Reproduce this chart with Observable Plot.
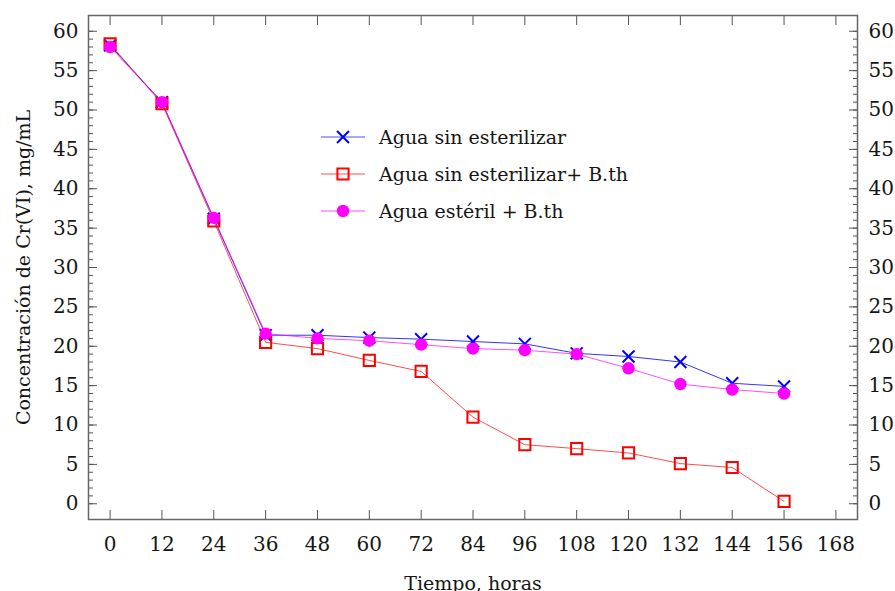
<!DOCTYPE html>
<html><head><meta charset="utf-8">
<script src="https://cdn.jsdelivr.net/npm/d3@7"></script>
<script src="https://cdn.jsdelivr.net/npm/@observablehq/plot@0.6"></script>
<style>
body{margin:0;background:#fff}
#chart{position:relative;width:895px;height:591px;overflow:hidden}
#legend{position:absolute;left:0;top:0}
</style>
</head><body><div id="chart"></div>
<script>
const hours = [0, 12, 24, 36, 48, 60, 72, 84, 96, 108, 120, 132, 144, 156];
const aguaSinEsterilizar = [58.2, 51.0, 36.2, 21.4, 21.4, 21.1, 20.9, 20.6, 20.3, 19.1, 18.7, 18.0, 15.3, 14.9];
const aguaSinEsterilizarBth = [58.4, 50.8, 35.9, 20.5, 19.7, 18.2, 16.8, 11.0, 7.5, 7.0, 6.45, 5.1, 4.6, 0.3];
const aguaEsterilBth = [58.0, 51.0, 36.3, 21.6, 21.0, 20.7, 20.2, 19.7, 19.5, 19.0, 17.2, 15.2, 14.5, 14.0];
const seriesNames = ["Agua sin esterilizar", "Agua sin esterilizar+ B.th", "Agua estéril + B.th"];
const seriesColors = ["#0000ff", "#ff0000", "#ff00ff"];
const xTicks = [0, 12, 24, 36, 48, 60, 72, 84, 96, 108, 120, 132, 144, 156, 168];
const yTicks = [0, 5, 10, 15, 20, 25, 30, 35, 40, 45, 50, 55, 60];
const yMinorTicks = d3.range(0, 61, 1);
const xLabel = "Tiempo, horas";
const yLabel = "Concentración de Cr(VI), mg/mL";

const rows = (vals, s) => hours.map((h, i) => ({h, v: vals[i], s}));
const blue = rows(aguaSinEsterilizar, seriesNames[0]);
const red = rows(aguaSinEsterilizarBth, seriesNames[1]);
const mag = rows(aguaEsterilBth, seriesNames[2]);

const FONT = "DejaVu Serif";
const tickColor = "#555";
const textColor = "#151515";

const chart = Plot.plot({
  width: 895, height: 591,
  marginLeft: 88, marginRight: 38, marginTop: 15, marginBottom: 72,
  style: {fontFamily: FONT, fontSize: "20px", color: textColor, background: "#fff"},
  x: {domain: [-5, 173]},
  y: {domain: [-2, 62]},
  marks: [
    // minor y ticks (inward)
    Plot.axisY(yMinorTicks, {anchor: "left", tickSize: -5, tickFormat: () => "", label: null, stroke: tickColor}),
    Plot.axisY(yMinorTicks, {anchor: "right", tickSize: -5, tickFormat: () => "", label: null, stroke: tickColor}),
    // major y ticks
    Plot.axisY(yTicks, {anchor: "left", tickSize: -9, tickPadding: 19, label: null, stroke: tickColor, fill: textColor}),
    Plot.axisY(yTicks, {anchor: "right", tickSize: -9, tickPadding: 20, label: null, stroke: tickColor, fill: textColor}),
    // x ticks
    Plot.axisX(xTicks, {anchor: "bottom", tickSize: -9, tickPadding: 26, label: null, stroke: tickColor, fill: textColor}),
    Plot.axisX(xTicks, {anchor: "top", tickSize: -9, tickFormat: () => "", label: null, stroke: tickColor}),
    Plot.frame({stroke: "#666", strokeWidth: 1.5}),
    // axis titles
    Plot.text([xLabel], {frameAnchor: "bottom", text: d => d, dy: 64, lineAnchor: "middle", textAnchor: "middle", fontSize: 19, fill: textColor}),
    Plot.text([yLabel], {frameAnchor: "left", text: d => d, dx: -65, rotate: -90, lineAnchor: "middle", textAnchor: "middle", fontSize: 19, fill: textColor}),
    // series
    Plot.line(blue, {x: "h", y: "v", stroke: seriesColors[0], strokeWidth: 1, strokeOpacity: 0.8}),
    Plot.dot(blue, {x: "h", y: "v", symbol: "times", r: 5.5, stroke: seriesColors[0], strokeWidth: 2}),
    Plot.line(red, {x: "h", y: "v", stroke: seriesColors[1], strokeWidth: 1, strokeOpacity: 0.7}),
    Plot.dot(red, {x: "h", y: "v", symbol: "square", r: 6.3, stroke: seriesColors[1], strokeWidth: 2, fill: "none"}),
    Plot.line(mag, {x: "h", y: "v", stroke: seriesColors[2], strokeWidth: 1, strokeOpacity: 0.7}),
    Plot.dot(mag, {x: "h", y: "v", symbol: "circle", r: 6.2, fill: seriesColors[2], stroke: "none"})
  ]
});
document.getElementById("chart").appendChild(chart);

// legend overlay
const lg = d3.select("#chart").append("svg").attr("id", "legend").attr("width", 895).attr("height", 591);
const symbols = [d3.symbolTimes, d3.symbolSquare, d3.symbolCircle];
const symSizes = [95, 125, 121];
seriesNames.forEach((name, i) => {
  const g = lg.append("g").attr("transform", `translate(0,${137 + i * 37})`);
  g.append("line").attr("x1", 321).attr("x2", 365).attr("y1", 0).attr("y2", 0)
    .attr("stroke", seriesColors[i]).attr("stroke-width", 1).attr("stroke-opacity", 0.7);
  const p = g.append("path").attr("transform", "translate(343,0)")
    .attr("d", d3.symbol(symbols[i], symSizes[i])());
  if (i < 2) p.attr("fill", "none").attr("stroke", seriesColors[i]).attr("stroke-width", 2);
  else p.attr("fill", seriesColors[i]);
  g.append("text").attr("x", 379).attr("y", 0).attr("dy", "0.35em")
    .attr("font-family", FONT).attr("font-size", 19).attr("fill", textColor).text(name);
});
</script>
</body></html>
